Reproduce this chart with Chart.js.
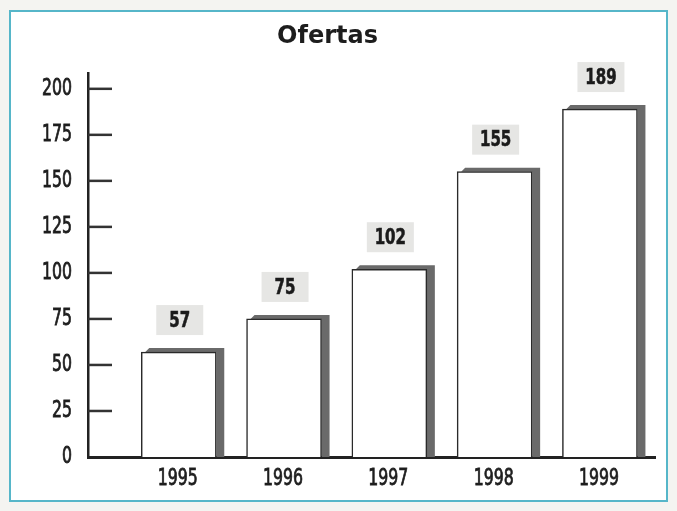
<!DOCTYPE html>
<html>
<head>
<meta charset="utf-8">
<title>Ofertas</title>
<script src="https://cdn.jsdelivr.net/npm/chart.js@4"></script>
<style>
    html, body { margin: 0; padding: 0; background: #f4f4f1; }
    #wrap { width: 677px; height: 511px; }
</style>
</head>
<body>
<div id="wrap"><canvas id="offers-chart" width="677" height="511"></canvas></div>
<script>
// Ofertas por año
const years = [1995, 1996, 1997, 1998, 1999];
const offers = [57, 75, 102, 155, 189];
const yTicks = [0, 25, 50, 75, 100, 125, 150, 175, 200];

const NARROW = '"DejaVu Sans Condensed", "DejaVu Sans", sans-serif';
const SQUEEZE = 0.76;   // horizontal squeeze for the tall narrow digits
const AXIS_COLOR = '#222';

// draw text squeezed horizontally around (x, y); optional outline makes it heavier
function narrowText(ctx, text, x, y, align, heavy) {
    ctx.save();
    ctx.translate(x, y);
    ctx.scale(SQUEEZE, 1);
    ctx.textAlign = align;
    ctx.textBaseline = 'middle';
    ctx.fillText(text, 0, 0);
    if (heavy) {
        ctx.strokeStyle = ctx.fillStyle;
        ctx.lineWidth = heavy;
        ctx.strokeText(text, 0, 0);
    }
    ctx.restore();
}

// white panel with the blue frame
const framePlugin = {
    id: 'frame',
    beforeDraw(chart) {
        const ctx = chart.ctx;
        ctx.save();
        ctx.fillStyle = '#ffffff';
        ctx.fillRect(10, 11, 657, 490);
        ctx.strokeStyle = '#56b6c9';
        ctx.lineWidth = 2;
        ctx.strokeRect(10, 11, 657, 490);
        ctx.restore();
    }
};

// dark grey "3d" edge behind each bar (top and right side)
const shadowPlugin = {
    id: 'barShadow',
    beforeDatasetsDraw(chart) {
        const ctx = chart.ctx;
        const meta = chart.getDatasetMeta(0);
        ctx.save();
        ctx.fillStyle = '#6a6a6a';
        meta.data.forEach(el => {
            const { x, y, width, base } = el.getProps(['x', 'y', 'width', 'base'], true);
            const left = x - width / 2;
            ctx.beginPath();
            ctx.moveTo(left + 4, y);
            ctx.lineTo(left + 8, y - 4);
            ctx.lineTo(left + width + 8, y - 4);
            ctx.lineTo(left + width + 8, base);
            ctx.lineTo(left + width, base);
            ctx.lineTo(left + width, y);
            ctx.closePath();
            ctx.fill();
        });
        ctx.restore();
    }
};

// value tags above the bars
const valueTagPlugin = {
    id: 'valueTags',
    afterDatasetsDraw(chart) {
        const ctx = chart.ctx;
        const meta = chart.getDatasetMeta(0);
        ctx.save();
        meta.data.forEach((el, i) => {
            const { x, y } = el.getProps(['x', 'y'], true);
            const w = 47, h = 30;
            const cx = x + 1;
            const top = y - 47;
            ctx.fillStyle = '#e6e6e4';
            ctx.fillRect(cx - w / 2, top, w, h);
            ctx.fillStyle = '#1b1b1b';
            ctx.font = 'bold 22px ' + NARROW;
            narrowText(ctx, String(offers[i]), cx, top + h / 2 + 1, 'center', 0.6);
        });
        ctx.restore();
    }
};

// inward tick marks and the narrow axis labels
const axisLabelPlugin = {
    id: 'axisLabels',
    afterDraw(chart) {
        const ctx = chart.ctx;
        const { x: xScale, y: yScale } = chart.scales;
        const left = chart.chartArea.left;
        const bottom = chart.chartArea.bottom;
        ctx.save();
        ctx.fillStyle = '#1e1e1e';
        ctx.font = '23px ' + NARROW;
        yScale.ticks.forEach(t => {
            const py = yScale.getPixelForValue(t.value);
            narrowText(ctx, String(t.value), left - 16, py, 'right', 0.8);
            if (t.value === 0) return;
            ctx.strokeStyle = '#333';
            ctx.lineWidth = 2.5;
            ctx.beginPath();
            ctx.moveTo(left, py);
            ctx.lineTo(left + 24, py);
            ctx.stroke();
        });
        xScale.ticks.forEach(t => {
            const px = xScale.getPixelForValue(t.value);
            narrowText(ctx, String(t.value), px - 1, bottom + 22, 'center', 0.8);
        });
        ctx.restore();
    }
};

new Chart(document.getElementById('offers-chart'), {
    type: 'bar',
    data: {
        datasets: [{
            label: 'Ofertas',
            data: years.map((yr, i) => ({ x: yr, y: offers[i] })),
            backgroundColor: '#ffffff',
            borderColor: '#2a2a2a',
            borderWidth: 1.5,
            borderSkipped: 'bottom',
            barThickness: 75
        }]
    },
    options: {
        responsive: false,
        animation: false,
        layout: { padding: { left: 0, right: 22, top: 0, bottom: 0 } },
        plugins: {
            legend: { display: false },
            tooltip: { enabled: false },
            title: {
                display: true,
                text: 'Ofertas',
                color: '#1d1d1d',
                font: { family: '"DejaVu Sans", sans-serif', weight: 'bold', size: 24 },
                padding: { top: 22, bottom: 22 }
            }
        },
        scales: {
            x: {
                type: 'linear',
                offset: false,
                min: 1994.138,
                max: 1999.523,
                z: 1,
                afterBuildTicks: scale => { scale.ticks = years.map(v => ({ value: v })); },
                afterFit: scale => { scale.height = 54; },
                grid: { display: false, drawTicks: false },
                border: { color: AXIS_COLOR, width: 3 },
                ticks: { display: false }
            },
            y: {
                min: 0,
                max: 208.7,
                z: 1,
                afterBuildTicks: scale => { scale.ticks = yTicks.map(v => ({ value: v })); },
                afterFit: scale => { scale.width = 88; },
                grid: { display: false, drawTicks: false },
                border: { color: AXIS_COLOR, width: 2.5 },
                ticks: { display: false }
            }
        }
    },
    plugins: [framePlugin, shadowPlugin, valueTagPlugin, axisLabelPlugin]
});
</script>
</body>
</html>
